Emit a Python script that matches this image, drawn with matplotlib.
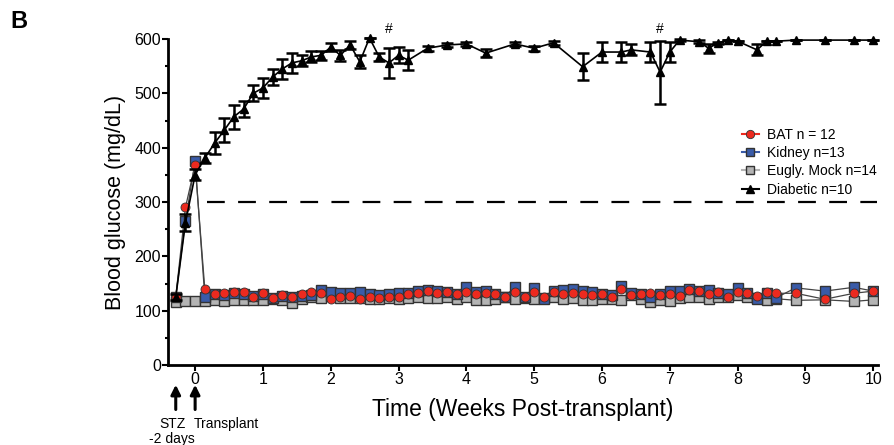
import numpy as np
import matplotlib
matplotlib.use('Agg')
import matplotlib.pyplot as plt
from matplotlib.lines import Line2D

plt.rcParams['font.family'] = ['Liberation Sans', 'DejaVu Sans']

# days relative to transplant (STZ at day -2)
eug_days = list(range(-2, 61)) + [62, 65, 68, 70]

bat = [125, 290, 368,
       140, 131, 132, 134, 134, 125, 132, 123, 129, 125, 131, 134, 132, 121, 125,
       127, 121, 125, 123, 125, 125, 131, 132, 136, 132, 134, 131, 134, 131, 132,
       130, 125, 134, 125, 134, 125, 134, 131, 132, 131, 129, 131, 125, 140, 129,
       130, 132, 129, 131, 127, 138, 136, 131, 134, 125, 134, 132, 127, 134, 132,
       132, 121, 132, 136]

kidney = [125, 265, 375,
          125, 130, 128, 132, 130, 127, 130, 124, 127, 125, 127, 128, 138, 135, 133,
          133, 135, 130, 128, 130, 132, 132, 137, 138, 137, 135, 130, 144, 135, 136,
          130, 126, 144, 126, 142, 121, 136, 138, 140, 136, 134, 130, 128, 146, 132,
          130, 126, 130, 137, 137, 140, 136, 138, 133, 131, 142, 133, 122, 132, 124,
          142, 136, 143, 136]

mock = [116, 117, 117,
        118, 119, 117, 120, 119, 120, 119, 121, 120, 114, 122, 125, 124, 127, 124,
        124, 123, 121, 122, 124, 122, 124, 126, 124, 123, 125, 122, 125, 120, 120,
        122, 125, 122, 124, 122, 124, 125, 122, 124, 120, 120, 122, 122, 120, 128,
        122, 116, 120, 117, 123, 125, 125, 122, 125, 125, 128, 126, 124, 120, 122,
        119, 120, 117, 120]

dia_days = [-2, -1, 0, 1, 2, 3, 4, 5, 6, 7, 8, 9, 10, 11, 12, 13, 14, 15, 16,
            17, 18, 19, 20, 21, 22, 24, 26, 28, 30, 33, 35, 37, 40, 42, 44, 45,
            47, 48, 49, 50, 52, 53, 54, 55, 56, 58, 59, 60, 62, 65, 68, 70]
dia = [125, 262, 350, 381, 408, 432, 457, 471, 500, 510, 530, 545, 556, 560,
       567, 570, 585, 570, 589, 558, 602, 567, 556, 570, 561, 583, 589, 591,
       574, 591, 583, 593, 549, 576, 576, 580, 576, 539, 576, 598, 595, 583,
       593, 598, 596, 580, 596, 596, 598, 598, 598, 598]
dia_err = [5, 15, 10, 10, 20, 22, 22, 15, 15, 18, 15, 18, 18, 10, 10, 8, 8,
           10, 8, 12, 0, 8, 28, 15, 18, 5, 4, 4, 8, 4, 5, 4, 25, 18, 18, 10, 18,
           58, 18, 2, 3, 8, 2, 0, 0, 10, 0, 0, 0, 0, 0, 0]

hash_days = [20, 48]

eug_x = np.array(eug_days) / 7.0
dia_x = np.array(dia_days) / 7.0

fig = plt.figure(figsize=(8.94, 4.45), dpi=100)
ax = fig.add_axes([168 / 894, 1 - 365 / 445, 710 / 894, 326 / 445])

edge = '#333333'
ax.plot(eug_x, mock, '-s', color='#444444', lw=0.9, mfc='#b4b4b4', mec=edge,
        mew=1.0, ms=6.5, zorder=3)
ax.plot(eug_x, kidney, '-s', color='#444444', lw=0.9, mfc='#3a5ba8', mec=edge,
        mew=1.0, ms=6.5, zorder=4)
ax.plot(eug_x, bat, '-o', color='#444444', lw=0.9, mfc='#ec2a1f', mec=edge,
        mew=0.6, ms=6.5, zorder=5)
ax.errorbar(dia_x, dia, yerr=dia_err, fmt='-^', color='black', lw=1.2,
            ms=5.5, elinewidth=1.8, capsize=4, capthick=1.8,
            zorder=6, clip_on=False)

# 300 mg/dL threshold
ax.plot([0.18, 10.05], [300, 300], color='black', lw=1.6,
        dashes=(8, 6), zorder=2)

for d in hash_days:
    ax.text(d / 7.0, 606, '#', ha='center', va='bottom', fontsize=10)

ax.set_xlim(-0.4, 10.07)
ax.set_ylim(0, 600)
ax.set_xticks(range(0, 11))
ax.set_yticks(range(0, 601, 100))
ax.set_yticks(range(50, 600, 100), minor=True)
for s in ['top', 'right']:
    ax.spines[s].set_visible(False)
for s in ['left', 'bottom']:
    ax.spines[s].set_linewidth(2)
ax.tick_params(axis='both', which='major', labelsize=11.5, width=1.5,
               length=4, pad=1)
ax.tick_params(axis='y', which='minor', width=1.5, length=2)

ax.set_xlabel('Time (Weeks Post-transplant)', fontsize=16.5, labelpad=8)
ax.set_ylabel('Blood glucose (mg/dL)', fontsize=15.5, labelpad=6)

# STZ / transplant arrows under the axis
tr = ax.get_xaxis_transform()
for xv in [-2 / 7.0, 0.0]:
    ax.annotate('', xy=(xv, -0.052), xytext=(xv, -0.145), xycoords=tr,
                textcoords=tr, annotation_clip=False,
                arrowprops=dict(arrowstyle='-|>', color='black', lw=2.2,
                                mutation_scale=14))
ax.text(-2 / 7.0 - 0.05, -0.16, 'STZ\n-2 days', transform=tr, ha='center',
        va='top', fontsize=10, linespacing=1.1)
ax.text(-0.02, -0.16, 'Transplant', transform=tr, ha='left', va='top',
        fontsize=10)

leg_handles = [
    Line2D([], [], marker='o', color='#ec2a1f', lw=1.5, mfc='#ec2a1f',
           mec=edge, mew=0.6, ms=6),
    Line2D([], [], marker='s', color='#3a5ba8', lw=1.5, mfc='#3a5ba8',
           mec=edge, mew=1.0, ms=5.5),
    Line2D([], [], marker='s', color='#b4b4b4', lw=1.5, mfc='#b4b4b4',
           mec=edge, mew=1.0, ms=5.5),
    Line2D([], [], marker='^', color='black', lw=1.5, ms=5.5),
]
leg_labels = ['BAT n = 12', 'Kidney n=13', 'Eugly. Mock n=14', 'Diabetic n=10']
ax.legend(leg_handles, leg_labels,
          loc='upper left', bbox_to_anchor=(742 / 894, 1 - 128 / 445),
          bbox_transform=fig.transFigure, frameon=False, fontsize=10,
          handlelength=1.2, handletextpad=0.6, labelspacing=0.3,
          borderpad=0, borderaxespad=0)

fig.text(10 / 894, 1 - 10 / 445, 'B', fontsize=17, fontweight='bold',
         ha='left', va='top')

fig.savefig('out.png', dpi=100)
